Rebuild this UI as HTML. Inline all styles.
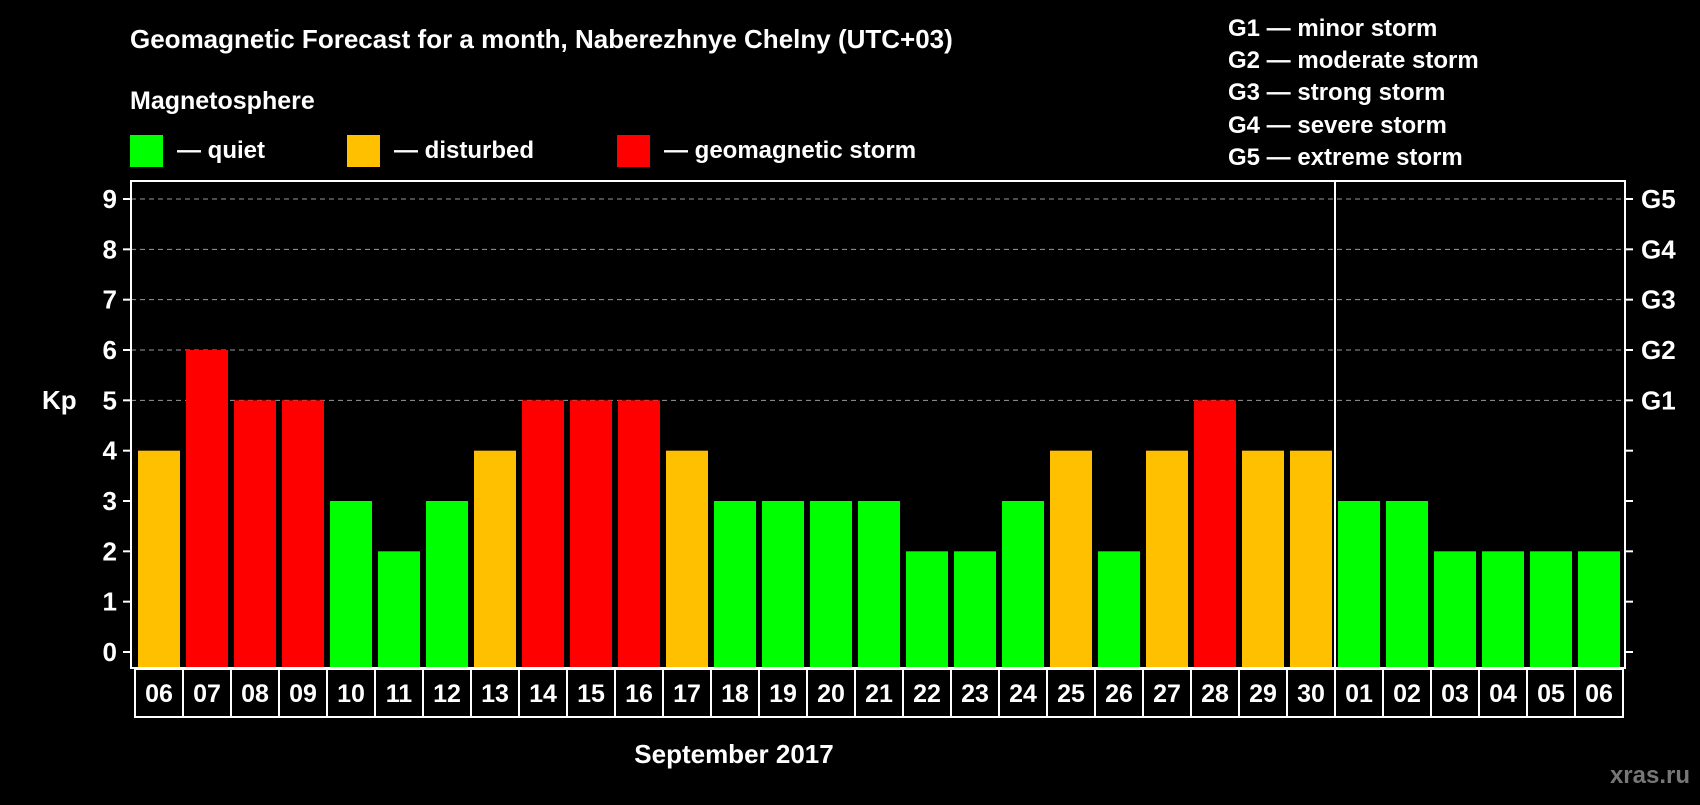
<!DOCTYPE html>
<html><head><meta charset="utf-8"><style>
body{margin:0;background:#000;width:1700px;height:800px;overflow:hidden}
svg text{font-family:"Liberation Sans",Arial,sans-serif;font-weight:bold;fill:#fff}
</style></head><body>
<svg id="chart" width="1700" height="800" xmlns="http://www.w3.org/2000/svg">
<rect width="1700" height="800" fill="#000"/>
<text x="130" y="48" font-size="26">Geomagnetic Forecast for a month, Naberezhnye Chelny (UTC+03)</text>
<text x="130" y="109" font-size="25">Magnetosphere</text>
<rect x="130" y="135" width="33" height="32" fill="#00ff00"/>
<text x="177" y="158" font-size="24">— quiet</text>
<rect x="347" y="135" width="33" height="32" fill="#ffc000"/>
<text x="394" y="158" font-size="24">— disturbed</text>
<rect x="617" y="135" width="33" height="32" fill="#ff0000"/>
<text x="664" y="158" font-size="24">— geomagnetic storm</text>
<g font-size="24">
<text x="1228" y="36">G1 — minor storm</text>
<text x="1228" y="68">G2 — moderate storm</text>
<text x="1228" y="100">G3 — strong storm</text>
<text x="1228" y="133">G4 — severe storm</text>
<text x="1228" y="165">G5 — extreme storm</text>
</g>
<text x="42" y="409" font-size="26">Kp</text>
<text x="734" y="763" font-size="26" text-anchor="middle">September 2017</text>
<text x="1690" y="783" font-size="24" text-anchor="end" style="fill:#777">xras.ru</text>
<g id="grid"></g><g id="bars"></g><g id="axes"></g><g id="dates"></g>
</svg>
<script>
const dates=["06","07","08","09","10","11","12","13","14","15","16","17","18","19","20","21","22","23","24","25","26","27","28","29","30","01","02","03","04","05","06"];
const kp=[4,6,5,5,3,2,3,4,5,5,5,4,3,3,3,3,2,2,3,4,2,4,5,4,4,3,3,2,2,2,2];
const yTicks=[0,1,2,3,4,5,6,7,8,9];
const gLabels=["","","","","","G1","G2","G3","G4","G5"];
const monthBreak=25;
const NS="http://www.w3.org/2000/svg";
const X0=131,X1=1625,YT=181,YB=668,Y0=652,UNIT=(652-199)/9,STEP=48,BX=138,BW=42;
const y=v=>Y0-v*UNIT, x=i=>BX+i*STEP;
function mk(t,a,p){const e=document.createElementNS(NS,t);for(const k in a)e.setAttribute(k,a[k]);p.appendChild(e);return e;}
const grid=document.getElementById('grid'),bars=document.getElementById('bars'),axes=document.getElementById('axes'),dg=document.getElementById('dates');
yTicks.forEach((v,i)=>{
 if(v>=5){const l=mk('line',{x1:X0,x2:X1,y1:y(v),y2:y(v),stroke:'#999','stroke-dasharray':'5,4','stroke-width':1},grid);
 
 }
 const t1=mk('line',{x1:X0-8,x2:X0,y1:y(v),y2:y(v),stroke:'#fff','stroke-width':2},axes);
 
 
 const t2=mk('line',{x1:X1,x2:X1+8,y1:y(v),y2:y(v),stroke:'#fff','stroke-width':2},axes);
 
 
 const lb=mk('text',{x:X0-14,y:y(v)+9,'font-size':26,'text-anchor':'end'},axes);lb.textContent=v;
 
 
 if(gLabels[i]){const g=mk('text',{x:X1+16,y:y(v)+9,'font-size':26},axes);g.textContent=gLabels[i];
 
 }
});
kp.forEach((v,i)=>{
 const c=v<=3?'#00ff00':v==4?'#ffc000':'#ff0000';
 const r=mk('rect',{x:x(i),y:y(v),width:BW,height:YB-1-y(v),fill:c},bars);
 
 
 const b=mk('rect',{x:135+i*STEP,y:669,width:STEP,height:48,fill:'none',stroke:'#fff','stroke-width':2},dg);
 
 
 const t=mk('text',{x:135+i*STEP+STEP/2,y:702,'font-size':25,'text-anchor':'middle'},dg);t.textContent=dates[i];
 
 
});
const fr=mk('rect',{x:X0,y:YT,width:X1-X0,height:YB-YT,fill:'none',stroke:'#fff','stroke-width':2},axes);


const d=mk('line',{x1:x(monthBreak)-3,x2:x(monthBreak)-3,y1:YT,y2:YB,stroke:'#fff','stroke-width':2},axes);


</script>
</body></html>
